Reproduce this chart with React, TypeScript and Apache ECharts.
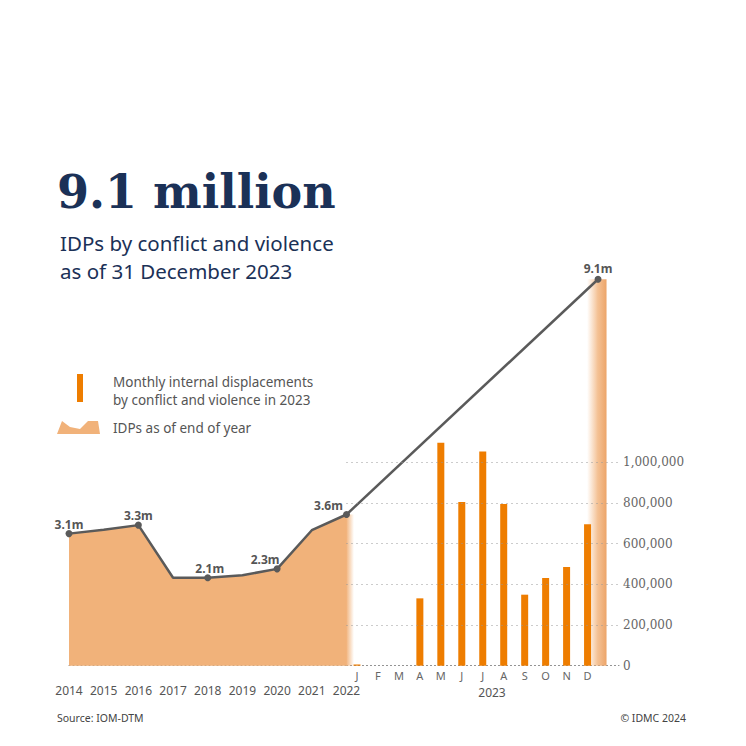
import React, { useEffect, useRef } from 'react';
import * as echarts from 'echarts';

// ---- data ----
const years = ['2014', '2015', '2016', '2017', '2018', '2019', '2020', '2021', '2022'];
const idpsMillions = [3.11, 3.2, 3.31, 2.07, 2.07, 2.13, 2.28, 3.19, 3.56];
const idpLabels: Record<string, string> = { '2014': '3.1m', '2016': '3.3m', '2018': '2.1m', '2020': '2.3m', '2022': '3.6m' };
const months = ['J', 'F', 'M', 'A', 'M', 'J', 'J', 'A', 'S', 'O', 'N', 'D'];
const monthlyDisplacements = [6000, 0, 0, 331000, 1096000, 804000, 1052000, 795000, 349000, 431000, 485000, 695000];
const idps2023 = 9.1;
const idps2023Label = '9.1m';
const barTicks = [200000, 400000, 600000, 800000, 1000000];

// ---- layout constants ----
const GRID_TOP = 241;
const GRID_H = 424.7;
const Y_MAX_M = 10;
const BAR_MAX = 2087000;
const AREA = '#F1B27A';
const BAR = '#EE7D00';
const LINE = '#5a5a5a';
const NAVY = '#1B3157';
const GREY = '#555555';
const SANS = '"Noto Sans", sans-serif';

export default function App() {
  const ref = useRef<HTMLDivElement>(null);
  useEffect(() => {
    document.body.style.margin = '0';
    const chart = echarts.init(ref.current!, undefined, { renderer: 'svg' });
    const labelOffsets: Record<string, number> = { '2020': -12, '2022': -18, '2018': 2 };
    const option: any = {
      animation: false,
      backgroundColor: '#ffffff',
      textStyle: { fontFamily: SANS },
      grid: [
        { left: 69, top: GRID_TOP, width: 277.5, height: GRID_H },
        { left: 346.5, top: GRID_TOP, width: 272.5, height: GRID_H },
      ],
      xAxis: [
        {
          gridIndex: 0, type: 'category', data: years, boundaryGap: false,
          axisLine: { show: true, lineStyle: { color: '#888', type: [1, 3], width: 1 } },
          axisTick: { show: false },
          axisLabel: { color: GREY, fontSize: 12, margin: 19, fontFamily: SANS, interval: 0 },
        },
        {
          gridIndex: 1, type: 'category', data: [...months, ''], boundaryGap: true,
          axisLine: { show: true, lineStyle: { color: '#888', type: [1, 3], width: 1 } },
          axisTick: { show: false },
          axisLabel: { color: '#666', fontSize: 11, margin: 4, fontFamily: SANS, interval: 0 },
        },
        { gridIndex: 1, type: 'value', min: 0, max: 13 / 12, show: false },
      ],
      yAxis: [
        { gridIndex: 0, type: 'value', min: 0, max: Y_MAX_M, show: false },
        {
          gridIndex: 1, type: 'value', min: 0, max: BAR_MAX, interval: 200000, position: 'right',
          axisLine: { show: false }, axisTick: { show: false }, splitLine: { show: false },
          axisLabel: {
            margin: 4, color: '#666', fontSize: 12, fontFamily: '"DejaVu Serif", serif',
            formatter: (v: number) => (v <= 1000000 ? v.toLocaleString('en-US') : ''),
          },
        },
        { gridIndex: 1, type: 'value', min: 0, max: Y_MAX_M, show: false },
      ],
      series: [
        {
          type: 'line', xAxisIndex: 1, yAxisIndex: 1, data: [], z: 1, silent: true,
          markLine: {
            silent: true, symbol: 'none', label: { show: false },
            lineStyle: { color: '#999', type: [1, 4], width: 1 },
            data: barTicks.map((v) => ({ yAxis: v })),
          },
        },
        {
          type: 'bar', xAxisIndex: 1, yAxisIndex: 1, data: monthlyDisplacements, barWidth: 7, z: 2,
          itemStyle: { color: BAR },
        },
        {
          type: 'custom', xAxisIndex: 0, yAxisIndex: 0, z: 2, silent: true,
          data: [[years.length - 1, idpsMillions[idpsMillions.length - 1]]],
          renderItem: (_p: any, api: any) => {
            const top = api.coord([api.value(0), api.value(1)]);
            const base = api.coord([api.value(0), 0]);
            return {
              type: 'rect',
              shape: { x: top[0] - 0.5, y: top[1], width: 8, height: base[1] - top[1] },
              style: {
                fill: new echarts.graphic.LinearGradient(0, 0, 1, 0, [
                  { offset: 0, color: 'rgba(241,178,122,1)' },
                  { offset: 1, color: 'rgba(241,178,122,0)' },
                ]),
              },
            };
          },
        },
        {
          type: 'custom', xAxisIndex: 2, yAxisIndex: 2, z: 2, silent: true,
          data: [[1, idps2023]],
          renderItem: (_p: any, api: any) => {
            const top = api.coord([api.value(0), api.value(1)]);
            const base = api.coord([api.value(0), 0]);
            return {
              type: 'rect',
              shape: { x: top[0] - 11, y: top[1], width: 19.5, height: base[1] - top[1] },
              style: {
                fill: new echarts.graphic.LinearGradient(0, 0, 1, 0, [
                  { offset: 0, color: 'rgba(241,178,122,0)' },
                  { offset: 0.55, color: 'rgba(240,172,112,0.75)' },
                  { offset: 1, color: 'rgba(236,164,104,1)' },
                ]),
              },
            };
          },
        },
        {
          type: 'line', xAxisIndex: 0, yAxisIndex: 0, z: 3,
          data: years.map((y, i) => {
            const lab = idpLabels[y];
            return lab
              ? {
                  value: idpsMillions[i], symbol: 'circle',
                  label: {
                    show: true, position: 'top', distance: 0, formatter: lab,
                    offset: [labelOffsets[y] || 0, 0],
                  },
                }
              : { value: idpsMillions[i], symbol: 'none' };
          }),
          symbolSize: 7,
          lineStyle: { color: LINE, width: 2.5 },
          itemStyle: { color: LINE },
          areaStyle: { color: AREA, opacity: 1 },
          label: { color: GREY, fontWeight: 'bold', fontSize: 12, fontFamily: SANS },
        },
        {
          type: 'line', xAxisIndex: 2, yAxisIndex: 2, z: 3,
          data: [
            { value: [0, idpsMillions[idpsMillions.length - 1]], symbol: 'none' },
            {
              value: [1, idps2023], symbol: 'circle',
              label: { show: true, position: 'top', distance: 1, formatter: idps2023Label },
            },
          ],
          symbolSize: 7,
          lineStyle: { color: LINE, width: 2.5 },
          itemStyle: { color: LINE },
          label: { color: GREY, fontWeight: 'bold', fontSize: 12, fontFamily: SANS },
        },
      ],
      graphic: [
        {
          type: 'text', x: 57, y: 192,
          style: { text: '9.1 million', font: 'bold 46px "DejaVu Serif", serif', fill: NAVY, textVerticalAlign: 'middle' },
        },
        {
          type: 'text', x: 60, y: 243,
          style: { text: 'IDPs by conflict and violence', font: `20.5px ${SANS}`, fill: NAVY, textVerticalAlign: 'middle' },
        },
        {
          type: 'text', x: 60, y: 271,
          style: { text: 'as of 31 December 2023', font: `20.5px ${SANS}`, fill: NAVY, textVerticalAlign: 'middle' },
        },
        { type: 'rect', shape: { x: 77, y: 374, width: 6, height: 28 }, style: { fill: BAR } },
        {
          type: 'text', x: 113, y: 382,
          style: { text: 'Monthly internal displacements', font: `13.5px ${SANS}`, fill: GREY, textVerticalAlign: 'middle' },
        },
        {
          type: 'text', x: 113, y: 400,
          style: { text: 'by conflict and violence in 2023', font: `13.5px ${SANS}`, fill: GREY, textVerticalAlign: 'middle' },
        },
        {
          type: 'polygon',
          shape: { points: [[57, 434], [62, 421], [70, 427], [80, 429], [88, 421], [98, 421], [100, 434]] },
          style: { fill: AREA },
        },
        {
          type: 'text', x: 113, y: 428,
          style: { text: 'IDPs as of end of year', font: `13.5px ${SANS}`, fill: GREY, textVerticalAlign: 'middle' },
        },
        {
          type: 'text', x: 492, y: 692,
          style: { text: '2023', font: `12px ${SANS}`, fill: GREY, textAlign: 'center', textVerticalAlign: 'middle' },
        },
        {
          type: 'text', x: 57, y: 718,
          style: { text: 'Source: IOM-DTM', font: `10.5px ${SANS}`, fill: '#444', textVerticalAlign: 'middle' },
        },
        {
          type: 'text', x: 686, y: 718,
          style: { text: '© IDMC 2024', font: `10.5px ${SANS}`, fill: '#444', textAlign: 'right', textVerticalAlign: 'middle' },
        },
      ],
    };
    chart.setOption(option);
    return () => chart.dispose();
  }, []);
  return <div ref={ref} style={{ width: 746, height: 746 }} />;
}
